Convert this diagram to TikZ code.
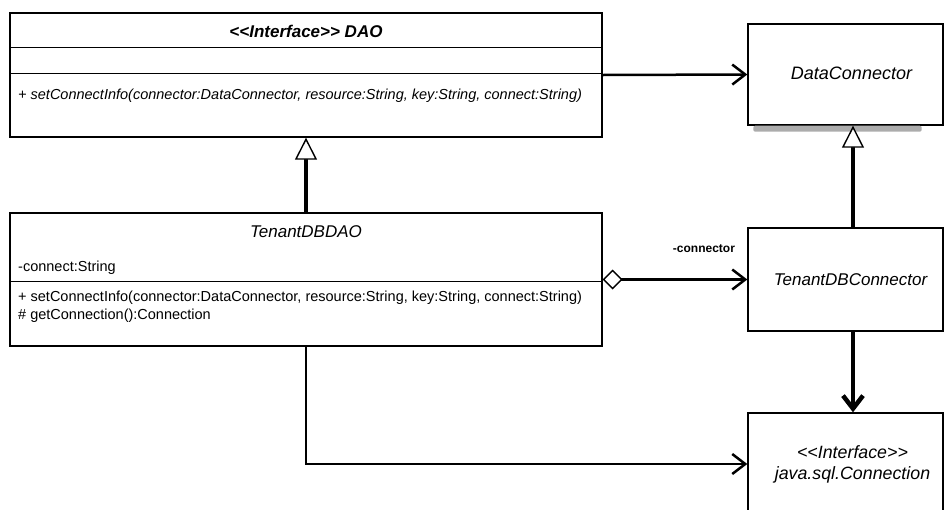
\documentclass[tikz,border=0pt]{standalone}
\usepackage{fontspec}
\setmainfont{Liberation Sans}
\usepackage{tikz}
\usetikzlibrary{arrows.meta, positioning, calc}

\newcommand{\stereo}[1]{<\kern0pt<#1>\kern0pt>}

\begin{document}
\begin{tikzpicture}[
    x=1pt, y=1pt,
    classbox/.style={rectangle, draw, line width=1.4pt, fill=white, inner sep=0pt},
    classname/.style={font=\fontsize{17}{20}\selectfont\itshape},
    member/.style={anchor=west, inner sep=0pt, font=\fontsize{14.5}{17}\selectfont},
    divider/.style={line width=0.8pt},
    assoc/.style={-{Straight Barb[length=13pt, width=20pt]}, line width=2.5pt},
    realize/.style={-{Triangle[open, fill=white, length=22pt, width=22pt, line width=1.4pt]}, line width=4pt},
    aggr/.style={{Diamond[open, fill=white, length=20pt, width=20pt, line width=1.4pt]}-{Straight Barb[length=13pt, width=20pt]}, line width=2.5pt}
]
\useasboundingbox (0,0) rectangle (944,-509);

% Classes
\node[classbox, minimum width=592pt, minimum height=124pt] (dao) at (306,-75) {};
\node[classbox, minimum width=195pt, minimum height=101pt] (dc) at (845.5,-74.5) {};
\node[classbox, minimum width=592pt, minimum height=133pt] (tdao) at (306,-279.5) {};
\node[classbox, minimum width=195pt, minimum height=103pt] (tdc) at (845.5,-279.5) {};
\node[classbox, minimum width=195pt, minimum height=102pt] (conn) at (845.5,-464) {};

% shadow under DataConnector
\fill[gray!65, rounded corners=2pt] ([xshift=6pt]dc.south west) rectangle ([xshift=-22pt, yshift=-6pt]dc.south east);

% DAO
\node[font=\fontsize{17}{20}\selectfont\bfseries\itshape, below=9pt of dao.north] (daoname) {\stereo{Interface} DAO};
\draw[divider] (dao.west |- 0,-47) -- (dao.east |- 0,-47);
\draw[divider] (dao.west |- 0,-73) -- (dao.east |- 0,-73);
\node[member, font=\fontsize{14.5}{17}\selectfont\itshape] (daoop) at (18,-96) {+ setConnectInfo(connector:DataConnector, resource:String, key:String, connect:String)};

% DataConnector
\node[classname, font=\fontsize{18}{21}\selectfont\itshape] (dcname) at ([xshift=6pt, yshift=1pt]dc.center) {DataConnector};

% TenantDBDAO
\node[classname, below=10pt of tdao.north] (tdaoname) {TenantDBDAO};
\node[member] (tdaoattr) at (18,-268) {-connect:String};
\draw[divider] (tdao.west |- 0,-281) -- (tdao.east |- 0,-281);
\node[member] (tdaoop1) at (18,-298) {+ setConnectInfo(connector:DataConnector, resource:String, key:String, connect:String)};
\node[member] (tdaoop2) at (18,-316) {\# getConnection():Connection};

% TenantDBConnector
\node[classname] (tdcname) at ([xshift=5pt]tdc.center) {TenantDBConnector};

% java.sql.Connection
\node[classname, align=center, font=\fontsize{17.8}{21}\selectfont\itshape] (connname) at ([xshift=7pt]conn.center) {\stereo{Interface}\\java.sql.Connection};

% Arrows
\draw[assoc] (dao.east) -- (dc.west);
\draw[realize] (tdao.north) -- (dao.south);
\draw[realize] ([xshift=7.5pt]tdc.north) -- ([xshift=7.5pt]dc.south);
\draw[aggr] (tdao.east) -- (tdc.west) node[pos=0.7, above=26pt, inner sep=0pt, font=\fontsize{12}{14}\selectfont\bfseries] {-connector};
\draw[assoc, line width=4.5pt] ([xshift=7.5pt]tdc.south) -- ([xshift=7.5pt]conn.north);
\draw[assoc] (tdao.south) |- (conn.west);

\end{tikzpicture}
\end{document}
